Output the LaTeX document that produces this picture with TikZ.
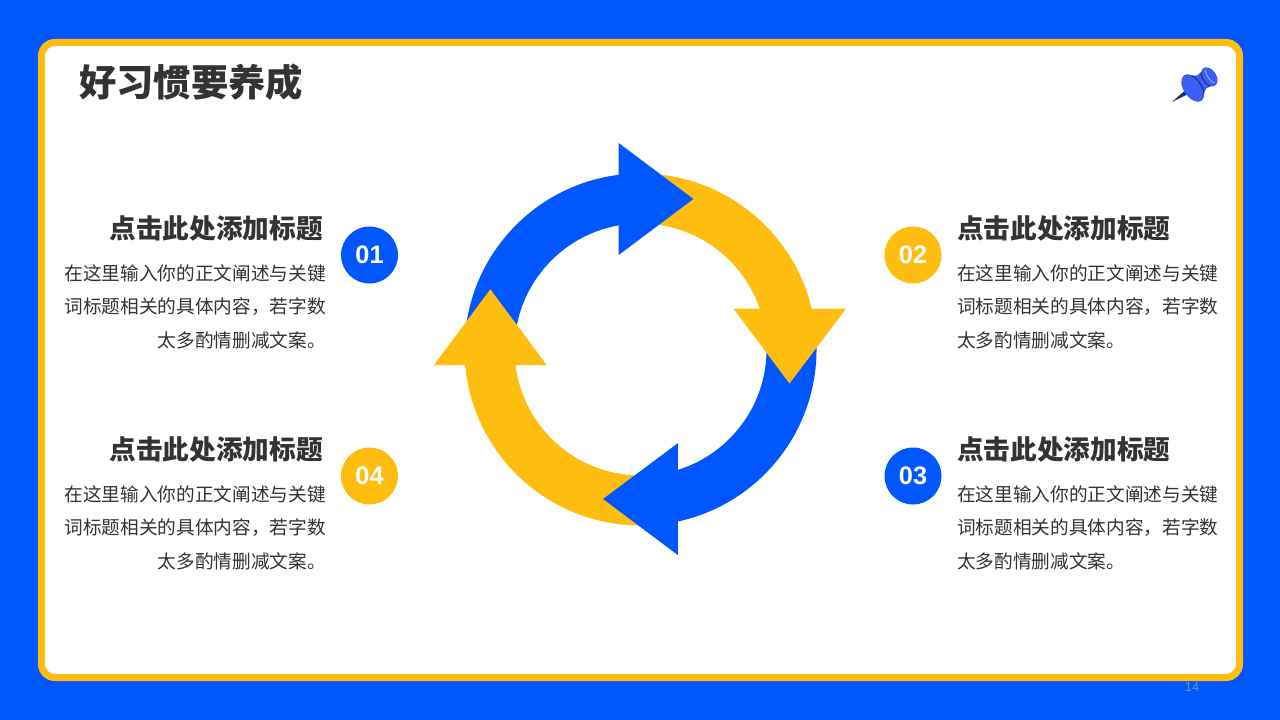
\documentclass[tikz,border=0pt]{standalone}
\usepackage{fontspec}
\newfontfamily\cjk{Noto Sans CJK SC}
\newfontfamily\latin{Liberation Sans}
\definecolor{mainblue}{HTML}{0057FF}
\definecolor{mainyellow}{HTML}{FFBE0F}
\definecolor{maintext}{HTML}{333333}
\definecolor{pagegray}{HTML}{7F90B5}
\definecolor{pinblue}{HTML}{3A5FF2}
\definecolor{pindark}{HTML}{1A2A6E}
\definecolor{pinlight}{HTML}{8FA4F7}
\tikzset{
    ringarc/.style={line width=37.5pt},
    numdot/.style={circle, minimum size=42.75pt, inner sep=0pt, text=white, font=\latin\bfseries\fontsize{19}{19}\selectfont},
    headtext/.style={inner sep=0pt, text=maintext, font=\cjk\bfseries\fontsize{20}{24}\selectfont},
    bodytext/.style={inner sep=0pt, text=maintext, font=\cjk\fontsize{14}{25.2}\selectfont}
}
\begin{document}
\begin{tikzpicture}[x=0.75pt, y=-0.75pt]
    \useasboundingbox (0, 0) rectangle (1280, 720);
    \fill[mainblue] (0, 0) rectangle (1280, 720);
    \draw[mainyellow, fill=white, line width=5.25pt, rounded corners=10pt] (41.5, 42.5) rectangle (1239.5, 677.5);

    \node[anchor=west, inner sep=0pt, text=maintext, font=\cjk\bfseries\fontsize{28}{32}\selectfont] (title) at (79, 82) {好习惯要养成};
    \node[text=pagegray, inner sep=0pt, font=\latin\fontsize{9.5}{9.5}\selectfont] (pagenum) at (1192, 687) {14};

    % ring
    \coordinate (c) at (640.5, 349.5);
    \draw[mainblue, ringarc] (c) ++(180:151) arc[start angle=180, end angle=270, radius=151];
    \draw[mainyellow, ringarc] (c) ++(275:151) arc[start angle=275, end angle=355, radius=151];
    \draw[mainblue, ringarc] (c) ++(355:151) arc[start angle=355, end angle=445, radius=151];
    \draw[mainyellow, ringarc] (c) ++(85:151) arc[start angle=85, end angle=180, radius=151];
    \fill[mainblue] (618.7, 143) -- (693.4, 199) -- (618.7, 255) -- cycle;
    \fill[mainyellow] (733.5, 308.7) -- (846, 308.7) -- (789.5, 383.5) -- cycle;
    \fill[mainblue] (677.8, 443.2) -- (603, 499) -- (677.8, 555) -- cycle;
    \fill[mainyellow] (434, 365) -- (490.3, 289.3) -- (546.7, 365) -- cycle;

    % left side
    \node[numdot, fill=mainblue] (n1) at (369.5, 255) {01};
    \node[headtext, anchor=east] (h1) at (323, 228) {点击此处添加标题};
    \node[bodytext, anchor=east, align=right] (b1) at (326, 306.5) {在这里输入你的正文阐述与关键\\词标题相关的具体内容，若字数\\太多酌情删减文案。};
    \node[numdot, fill=mainyellow] (n4) at (369.5, 476) {04};
    \node[headtext, anchor=east] (h4) at (323, 449) {点击此处添加标题};
    \node[bodytext, anchor=east, align=right] (b4) at (326, 527.5) {在这里输入你的正文阐述与关键\\词标题相关的具体内容，若字数\\太多酌情删减文案。};

    % right side
    \node[numdot, fill=mainyellow] (n2) at (913, 255) {02};
    \node[headtext, anchor=west] (h2) at (957, 228) {点击此处添加标题};
    \node[bodytext, anchor=west, align=left] (b2) at (957, 306.5) {在这里输入你的正文阐述与关键\\词标题相关的具体内容，若字数\\太多酌情删减文案。};
    \node[numdot, fill=mainblue] (n3) at (913, 476) {03};
    \node[headtext, anchor=west] (h3) at (957, 449) {点击此处添加标题};
    \node[bodytext, anchor=west, align=left] (b3) at (957, 527.5) {在这里输入你的正文阐述与关键\\词标题相关的具体内容，若字数\\太多酌情删减文案。};

    % pin
    \begin{scope}[shift={(1172, 102)}, rotate=34]
        \fill[pindark] (0, 0) -- (19, -2.5) -- (19, 2.5) -- cycle;
        \fill[pinblue] (24, -14) -- (36, -8) -- (45, -9) -- (45, 9) -- (36, 8) -- (24, 14) -- cycle;
        \fill[pinblue] (25, 0) ellipse[x radius=9, y radius=15.5];
        \draw[pindark, line width=0.7pt] (31, -11) arc[start angle=-70, end angle=70, x radius=4, y radius=11.7];
        \fill[pinblue] (45, 0) ellipse[x radius=7, y radius=10.5];
        \draw[pindark, line width=0.7pt] (41, -8.5) arc[start angle=-110, end angle=-250, x radius=4, y radius=9];
        \draw[pinlight, line width=0.7pt] (46, -8) arc[start angle=-110, end angle=-250, x radius=3.5, y radius=8.5];
    \end{scope}
\end{tikzpicture}
\end{document}
